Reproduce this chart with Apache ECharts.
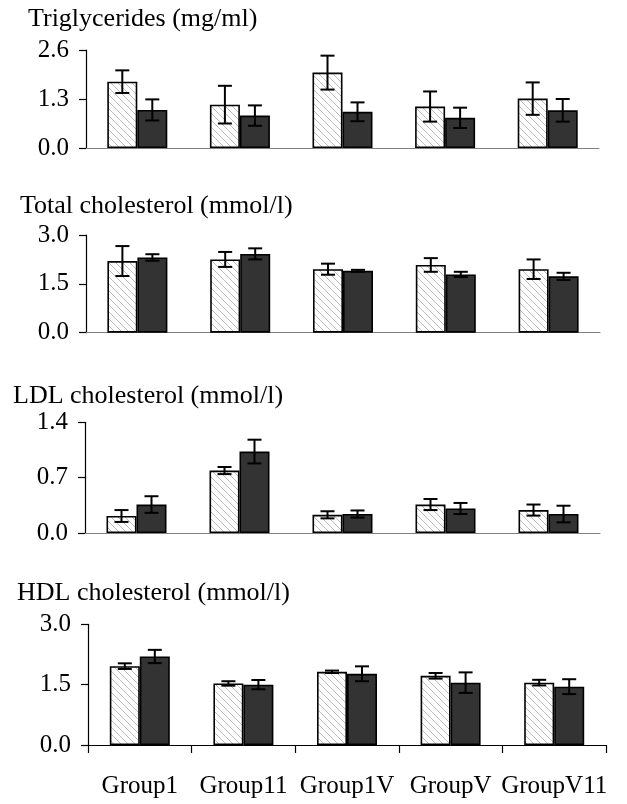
<!DOCTYPE html>
<html>
<head>
<meta charset="utf-8">
<script src="https://cdn.jsdelivr.net/npm/echarts@6/dist/echarts.min.js"></script>
<style>
html,body{margin:0;padding:0;background:#fff;}
#chart{width:627px;height:804px;}
</style>
</head>
<body>
<div id="chart"></div>
<script>
// ---- data ----
var categories = ['Group1', 'Group11', 'Group1V', 'GroupV', 'GroupV11'];

var titles = ['Triglycerides (mg/ml)', 'Total cholesterol (mmol/l)', 'LDL cholesterol (mmol/l)', 'HDL cholesterol (mmol/l)'];

var yMax = [2.6, 3.0, 1.4, 3.0];
var yInterval = [1.3, 1.5, 0.7, 1.5];

// Triglycerides
var tgControl = [1.76, 1.15, 2.00, 1.10, 1.31];
var tgControlErr = [0.30, 0.50, 0.45, 0.40, 0.43];
var tgTreated = [1.01, 0.86, 0.96, 0.80, 1.00];
var tgTreatedErr = [0.28, 0.27, 0.25, 0.27, 0.30];

// Total cholesterol
var tcControl = [2.20, 2.25, 1.95, 2.08, 1.95];
var tcControlErr = [0.46, 0.23, 0.17, 0.21, 0.30];
var tcTreated = [2.31, 2.42, 1.90, 1.79, 1.73];
var tcTreatedErr = [0.10, 0.17, 0.03, 0.08, 0.11];

// LDL cholesterol
var ldlControl = [0.215, 0.79, 0.23, 0.36, 0.29];
var ldlControlErr = [0.075, 0.045, 0.045, 0.07, 0.07];
var ldlTreated = [0.36, 1.03, 0.24, 0.31, 0.24];
var ldlTreatedErr = [0.105, 0.15, 0.045, 0.07, 0.105];

// HDL cholesterol
var hdlControl = [1.96, 1.53, 1.82, 1.72, 1.55];
var hdlControlErr = [0.07, 0.055, 0.03, 0.07, 0.07];
var hdlTreated = [2.20, 1.50, 1.77, 1.55, 1.45];
var hdlTreatedErr = [0.165, 0.115, 0.185, 0.255, 0.185];

var panels = [
  {c: tgControl, ce: tgControlErr, t: tgTreated, te: tgTreatedErr},
  {c: tcControl, ce: tcControlErr, t: tcTreated, te: tcTreatedErr},
  {c: ldlControl, ce: ldlControlErr, t: ldlTreated, te: ldlTreatedErr},
  {c: hdlControl, ce: hdlControlErr, t: hdlTreated, te: hdlTreatedErr}
];

// ---- layout / style ----
var FONT = 'Liberation Serif';
var grids = [
  {left: 86, top: 50, width: 513, height: 98},
  {left: 86, top: 235, width: 514, height: 97.7},
  {left: 85, top: 422.3, width: 515, height: 110.7},
  {left: 88, top: 624.3, width: 518, height: 120.7}
];
var titlePos = [[28, 19.5], [20, 206.5], [13, 396.5], [17, 593.5]];

// hatch pattern
var S = 7;
var pc = document.createElement('canvas');
pc.width = S; pc.height = S;
var ctx = pc.getContext('2d');
ctx.fillStyle = '#ffffff';
ctx.fillRect(0, 0, S, S);
ctx.strokeStyle = '#b4b4b4';
ctx.lineWidth = 0.9;
ctx.beginPath();
ctx.moveTo(-1, -1); ctx.lineTo(S + 1, S + 1);
ctx.moveTo(-1, S - 1); ctx.lineTo(1, S + 1);
ctx.moveTo(S - 1, -1); ctx.lineTo(S + 1, 1);
ctx.stroke();

function errRender(params, api) {
  var lo = api.coord([api.value(0), api.value(1)]);
  var hi = api.coord([api.value(0), api.value(2)]);
  var cx = lo[0] + api.value(3);
  var cap = 7;
  var st = {stroke: '#000', lineWidth: 2};
  return {
    type: 'group',
    children: [
      {type: 'line', shape: {x1: cx, y1: hi[1], x2: cx, y2: lo[1]}, style: st},
      {type: 'line', shape: {x1: cx - cap, y1: hi[1], x2: cx + cap, y2: hi[1]}, style: st},
      {type: 'line', shape: {x1: cx - cap, y1: lo[1], x2: cx + cap, y2: lo[1]}, style: st}
    ]
  };
}

var option = {
  animation: false,
  backgroundColor: '#fff',
  grid: [],
  xAxis: [],
  yAxis: [],
  series: [],
  graphic: []
};

panels.forEach(function (p, k) {
  option.grid.push(Object.assign({}, grids[k]));
  var last = k === 3;
  option.xAxis.push({
    type: 'category',
    gridIndex: k,
    data: categories,
    boundaryGap: true,
    axisLine: {show: true, lineStyle: {color: last ? '#000' : '#808080', width: 1.2}},
    axisTick: {show: last, length: 8, lineStyle: {color: '#000', width: 1.2}},
    axisLabel: {show: last, interval: 0, margin: 29, color: '#000', fontFamily: FONT, fontSize: 25},
    splitLine: {show: false}
  });
  option.yAxis.push({
    type: 'value',
    gridIndex: k,
    min: 0,
    max: yMax[k],
    interval: yInterval[k],
    axisLine: {show: true, lineStyle: {color: '#000', width: 1.2}},
    axisTick: {show: true, length: 7, lineStyle: {color: '#000', width: 1.2}},
    axisLabel: {margin: 17, color: '#000', fontFamily: FONT, fontSize: 25,
      formatter: function (v) { return v.toFixed(1); }},
    splitLine: {show: false}
  });
  option.series.push({
    type: 'bar', xAxisIndex: k, yAxisIndex: k,
    data: p.c, barWidth: 30, barGap: '0%',
    itemStyle: {color: {image: pc, repeat: 'repeat'}, borderColor: '#000', borderWidth: 1.6}
  });
  option.series.push({
    type: 'bar', xAxisIndex: k, yAxisIndex: k,
    data: p.t, barWidth: 30, barGap: '0%',
    itemStyle: {color: '#333333', borderColor: '#000', borderWidth: 1.6}
  });
  var errData = [];
  p.c.forEach(function (v, i) { errData.push([i, v - p.ce[i], v + p.ce[i], -15]); });
  p.t.forEach(function (v, i) { errData.push([i, v - p.te[i], v + p.te[i], 15]); });
  option.series.push({
    type: 'custom', xAxisIndex: k, yAxisIndex: k,
    data: errData, renderItem: errRender, z: 5, clip: false,
    encode: {x: 0, y: [1, 2]}
  });
  option.graphic.push({
    type: 'text', left: titlePos[k][0], top: titlePos[k][1] - 13,
    style: {text: titles[k], fill: '#000', font: '26px "' + FONT + '"'}
  });
});

var chart = echarts.init(document.getElementById('chart'), null, {renderer: 'canvas'});
chart.setOption(option);
</script>
</body>
</html>
